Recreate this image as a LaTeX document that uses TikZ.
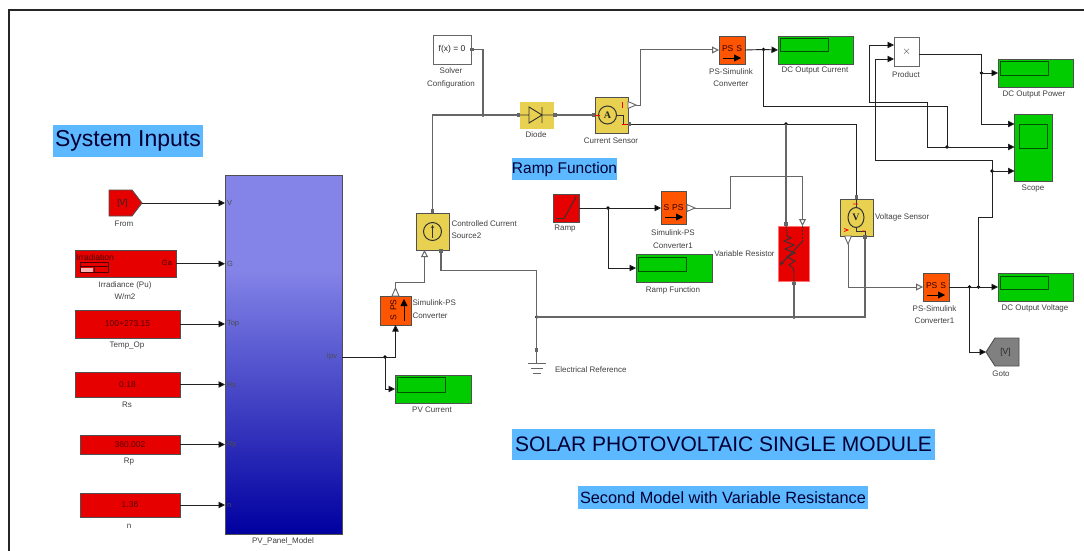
\documentclass[tikz,border=0pt]{standalone}
\usepackage{fontspec}
\setmainfont{Liberation Sans}
\newfontfamily\iconserif{Liberation Serif}
\usetikzlibrary{arrows.meta}
\definecolor{bred}{HTML}{E60000}
\definecolor{borange}{HTML}{FF5500}
\definecolor{byellow}{HTML}{E8D050}
\definecolor{bgreen}{HTML}{00CC00}
\definecolor{bgray}{HTML}{808080}
\definecolor{titlebg}{HTML}{5CB8FF}
\definecolor{edge}{HTML}{505050}
\definecolor{physw}{HTML}{666666}
\definecolor{sigw}{HTML}{222222}
\definecolor{pnlA}{HTML}{8484E8}
\definecolor{pnlB}{HTML}{0000A0}
\pgfdeclareverticalshading{panelshade}{100bp}{color(0bp)=(pnlB); color(25bp)=(pnlB); color(62bp)=(pnlA); color(75bp)=(pnlA); color(100bp)=(pnlA)}
\tikzset{
  x=1pt,y=-1pt,
  blockbox/.style={draw=edge,line width=0.9pt,inner sep=0pt,outer sep=0pt,font=\fontsize{8.5}{10}\selectfont,text=black!65!red},
  redbox/.style={blockbox,fill=bred},
  orangebox/.style={blockbox,fill=borange},
  yellowbox/.style={blockbox,fill=byellow},
  greenbox/.style={blockbox,fill=bgreen},
  whitebox/.style={blockbox,fill=white,draw=black!60},
  ghost/.style={inner sep=0pt,outer sep=0pt,font=\fontsize{8.5}{10}\selectfont,text=black!85},
  lbl/.style={inner sep=0pt,outer sep=0pt,font=\fontsize{8}{12.5}\selectfont,text=black!75,align=center},
  lbll/.style={lbl,anchor=west,align=left},
  portlbl/.style={inner sep=0pt,outer sep=0pt,font=\fontsize{7.5}{9}\selectfont,text=black!70},
  titlebox/.style={fill=titlebg,inner sep=0pt,outer sep=0pt,text=black!80!blue},
  sig/.style={draw=sigw,line width=0.9pt,-{Triangle[length=6.5pt,width=6.5pt,fill=black]}},
  sigplain/.style={draw=sigw,line width=0.9pt},
  phys/.style={draw=physw,line width=1.1pt},
  physin/.style={draw=physw,line width=1pt,-{Triangle[length=7pt,width=7pt,fill=white]}},
  outtri/.style={draw=physw,line width=0.9pt,fill=white},
  dispin/.style={draw=black!60!bgreen,line width=1pt},
  icon/.style={draw=black!80,line width=0.9pt},
  jdot/.style={circle,fill=black,inner sep=0pt,minimum size=3.6pt,outer sep=0pt},
}
\newcommand\blk[7]{%
  \pgfmathsetmacro\bcx{(#2+#4)/2}\pgfmathsetmacro\bcy{(#3+#5)/2}%
  \pgfmathsetmacro\bw{#4-#2}\pgfmathsetmacro\bh{#5-#3}%
  \node[#6,minimum width=\bw pt,minimum height=\bh pt] (#1) at (\bcx,\bcy) {#7};}
\newcommand\jn[3]{\node[jdot] (#1) at (#2,#3) {};}
\newcommand\prt[2]{\fill[physw] (#1-1.7,#2-1.9) rectangle (#1+1.7,#2+1.9);}
\newcommand\otri[3]{\draw[outtri,shift={(#1,#2)},rotate=#3] (0,-3.5)--(8,0)--(0,3.5)--cycle;}
\begin{document}
\begin{tikzpicture}
\useasboundingbox (0,0) rectangle (1084,551);
\fill[white] (0,0) rectangle (1084,551);
% frame
\draw[black!85,line width=1.6pt] (1084,10) -- (9,10) -- (9,551);
% titles
\blk{tsys}{53}{125}{203}{157}{titlebox,font=\fontsize{23}{26}\selectfont}{\raisebox{-1.5pt}{System Inputs}}
\blk{tramp}{513}{158}{616}{180}{titlebox,font=\fontsize{15.5}{17}\selectfont}{Ramp Function}
\blk{tsolar}{512}{429}{935}{460}{titlebox,font=\fontsize{21}{23}\selectfont}{SOLAR PHOTOVOLTAIC SINGLE MODULE}
\blk{tsec}{578}{486}{868}{509}{titlebox,font=\fontsize{16.3}{18}\selectfont}{Second Model with Variable Resistance}
% input blocks
\fill[bred,draw=edge,line width=0.9pt] (109,190)--(132,190)--(142,203)--(132,216)--(109,216)--cycle;
\blk{from}{109}{190}{142}{216}{ghost}{\hspace*{-6pt}[V]}
\node[lbl] (lfrom) at (124,224) {From};
\blk{irr}{75}{250.5}{176}{277}{redbox}{}
\node[ghost,anchor=west,text=black!70!red] (irrt) at (76,257.5) {Irradiation};
\draw[black!70!red,line width=0.8pt] (80,262) rectangle (108.5,272) (80,266.5)--(108.5,266.5) (94,266.5)--(94,272);
\fill[white!70!red] (81,268) rectangle (93,271.5);
\node[portlbl,text=black!70!red] (irrg) at (167,263) {Ga};
\node[lbl] (lirr) at (125,290.5) {Irradiance (Pu)\\W/m2};
\blk{temp}{75}{310}{180}{338}{redbox}{100+273.15}
\node[lbl] (ltemp) at (127,345.5) {Temp\_Op};
\blk{rs}{75}{372}{180}{397}{redbox}{0.18}
\node[lbl] (lrs) at (127,405) {Rs};
\blk{rp}{80}{435}{180}{454}{redbox}{360.002}
\node[lbl] (lrp) at (129,462) {Rp};
\blk{nn}{80}{493}{180}{517}{redbox}{1.36}
\node[lbl] (lnn) at (129,526) {n};
% panel
\node[draw=edge,line width=0.9pt,shading=panelshade,minimum width=117pt,minimum height=359pt,inner sep=0pt,outer sep=0pt] (panel) at (283.5,354.5) {};
\node[lbl] (lpanel) at (283,541) {PV\_Panel\_Model};
\node[portlbl,anchor=west] (pv) at (227,203) {V};
\node[portlbl,anchor=west] (pg) at (227,263.5) {G};
\node[portlbl,anchor=west] (pt) at (227,324) {Top};
\node[portlbl,anchor=west] (pr) at (227,384.5) {Rs};
\node[portlbl,anchor=west] (pp) at (227,445) {Rp};
\node[portlbl,anchor=west] (pn) at (227,505) {n};
\node[portlbl,anchor=east] (pipv) at (337,357) {Ipv};
% solver
\blk{solver}{433}{35}{471}{64.5}{whitebox,text=black!85}{f(x) = 0}
\node[lbl] (lsolver) at (451,78) {Solver\\Configuration};
% diode
\blk{diode}{520}{102}{553}{128}{yellowbox,draw=byellow}{}
\draw[icon] (520,115)--(529,115) (529,107)--(542,115)--(529,123)--cycle (542,107)--(542,123) (542,115)--(553,115);
\node[lbl] (ldiode) at (536,135) {Diode};
% current sensor
\blk{cs}{595}{97}{628}{133}{yellowbox}{}
\draw[icon,line width=1pt] (607.5,115) circle (9);
\node[inner sep=0pt,font=\iconserif\bfseries\fontsize{10}{10}\selectfont,text=black!85] (csa) at (607.5,115) {A};
\draw[icon] (616.5,115)--(623,115)--(623,124)--(628,124);
\draw[red,line width=0.8pt] (595,115)--(600,115) (622,102)--(622,108) (622,124)--(627,124);
\node[lbl] (lcs) at (611,141) {Current Sensor};
% ccs
\blk{ccs}{416}{213}{449}{250}{yellowbox}{}
\draw[icon,line width=1pt] (432.5,231.5) circle (9);
\draw[icon,-{Stealth[length=3pt,width=3pt]}] (432.5,238)--(432.5,225);
\node[lbll] (lccs) at (451.5,229.5) {Controlled Current\\Source2};
% S PS vertical
\blk{spsv}{380}{296}{411}{325}{orangebox}{}
\node[inner sep=0pt,rotate=90,font=\fontsize{8.5}{9}\selectfont,text=black!80!red] (spsvt) at (393.5,310) {S\hspace{4pt}PS};
\draw[draw=black,line width=0.8pt,-{Triangle[length=7pt,width=7pt]}] (404,321)--(404,299);
\node[lbll] (lspsv) at (412.5,309) {Simulink-PS\\Converter};
% PV current
\blk{pvc}{395}{375}{471}{403}{greenbox}{}
\draw[dispin] (397.5,377.5) rectangle (445.5,392);
\node[lbl] (lpvc) at (432,410) {PV Current};
% ramp
\blk{ramp}{553}{194}{579}{222}{redbox}{}
\draw[icon] (556,218.5)--(564,218.5)--(576,197);
\node[lbl] (lramp) at (565,229) {Ramp};
% S-PS1
\blk{sps}{661}{191}{686.5}{224.5}{orangebox}{}
\node[inner sep=0pt,font=\fontsize{8.5}{9}\selectfont,text=black!80!red] (spst) at (673.5,208) {S\hspace{3pt}PS};
\draw[draw=black,line width=0.8pt,-{Triangle[length=7pt,width=7pt]}] (665,217)--(683,217);
\node[lbl] (lsps) at (673,239) {Simulink-PS\\Converter1};
% ramp display
\blk{rdisp}{636}{254}{712}{282}{greenbox}{}
\draw[dispin] (638.5,257) rectangle (686.5,271);
\node[lbl] (lrdisp) at (673,290) {Ramp Function};
% variable resistor
\blk{vr}{778}{226}{809}{281}{redbox,draw=red!55!white}{}
\draw[icon] (787,232)--(787,236)--(791,238)--(784,241)--(794,245)--(785,249)--(795,253)--(787,257)--(795,261)--(789,265)--(793,268)--(794,272)--(794,281);
\draw[icon,-{Stealth[length=4pt,width=4pt]}] (802,242)--(780,265);
\draw[icon,dashed,dash pattern=on 2pt off 1.5pt] (786,226)--(787,232) (802.5,226)--(802.5,242);
\node[lbl] (lvr) at (744.5,253.5) {Variable Resistor};
% voltage sensor
\blk{vs}{840}{199}{873}{236}{yellowbox}{}
\draw[icon,line width=1pt] (856,217.5) ellipse (8 and 10);
\node[inner sep=0pt,font=\iconserif\bfseries\fontsize{10}{10}\selectfont,text=black!85] (vsv) at (856,217.5) {V};
\draw[icon] (856,199)--(856,207.5) (856,227.5)--(856,231)--(865,231)--(865,236);
\draw[red,line width=0.8pt] (853,204)--(858,204) (844,228.5)--(848,230)--(844,231.5) (862,231)--(865,231);
\node[lbll] (lvs) at (875,217) {Voltage Sensor};
% output converters
\blk{psc}{719}{36}{745}{64}{orangebox}{}
\node[inner sep=0pt,font=\fontsize{8.5}{9}\selectfont,text=black!80!red] (psct) at (732,49) {PS\hspace{3pt}S};
\draw[draw=black,line width=0.8pt,-{Triangle[length=7pt,width=7pt]}] (723,58)--(741,58);
\node[lbl] (lpsc) at (731,77.5) {PS-Simulink\\Converter};
\blk{psv}{923}{273}{949}{301}{orangebox}{}
\node[inner sep=0pt,font=\fontsize{8.5}{9}\selectfont,text=black!80!red] (psvt) at (936,286) {PS\hspace{3pt}S};
\draw[draw=black,line width=0.8pt,-{Triangle[length=7pt,width=7pt]}] (927,295)--(945,295);
\node[lbl] (lpsv) at (934.5,314.5) {PS-Simulink\\Converter1};
% displays
\blk{dci}{778}{36}{853}{64}{greenbox}{}
\draw[dispin] (780.5,38.5) rectangle (828,52);
\node[lbl] (ldci) at (815,71) {DC Output Current};
\blk{dcp}{998}{59}{1073}{87}{greenbox}{}
\draw[dispin] (1000.5,61.5) rectangle (1048,75.5);
\node[lbl] (ldcp) at (1034,94.5) {DC Output Power};
\blk{dcv}{998}{273}{1073}{301}{greenbox}{}
\draw[dispin] (1000.5,276) rectangle (1048,289.5);
\node[lbl] (ldcv) at (1035,308.5) {DC Output Voltage};
% product
\blk{prod}{894}{37}{919}{66}{whitebox,text=black!80,font=\fontsize{11}{11}\selectfont}{$\times$}
\node[lbl] (lprod) at (906,75) {Product};
% scope
\blk{scope}{1014.5}{114}{1052}{181}{greenbox}{}
\draw[dispin] (1019.5,124) rectangle (1047,148);
\node[lbl] (lscope) at (1033,189) {Scope};
% goto
\fill[bgray,draw=edge,line width=0.9pt] (986,352)--(995,338)--(1019,338)--(1019,366)--(995,366)--cycle;
\blk{goto}{986}{338}{1019}{366}{ghost}{\hspace*{6pt}[V]}
\node[lbl] (lgoto) at (1001,374) {Goto};
% ground
\coordinate (gndtop) at (536.7,350);
\draw[physw,line width=1.1pt] (gndtop)--(536.7,363.5) (527.5,363.5)--(546,363.5) (530.7,368.5)--(542.7,368.5) (532.7,373.5)--(540.7,373.5);
\node[lbll] (lgnd) at (555,370) {Electrical Reference};
% junctions
\jn{ja}{385}{357}
\jn{jb}{483}{115}
\jn{jc}{536.7}{317}
\jn{jd}{794}{317}
\jn{je}{608}{208}
\jn{jf}{763.5}{49.5}
\jn{jg}{786}{124}
\jn{jh}{947}{147}
\jn{ji}{981.5}{73}
\jn{jj}{992}{171}
\jn{jk}{969.5}{287}
\jn{jl}{978.5}{287}
% ports
\coordinate (ccsin) at (424.5,250);
\coordinate (ccsout) at (441,250);
\coordinate (csout) at (636,105);
\coordinate (csr) at (628,124);
\coordinate (vsb) at (865,236);
\coordinate (vst) at (856.5,199);
\coordinate (vsout) at (848,244);
\coordinate (vrt) at (786,226);
\coordinate (vrin) at (802.5,226);
\coordinate (vrb) at (794,281);
\coordinate (spso) at (693,208);
\coordinate (pia) at (894,45);
\coordinate (pib) at (894,59);
\coordinate (po) at (919,54);
\coordinate (sca) at (1014.5,124);
\coordinate (scb) at (1014.5,147);
\coordinate (scc) at (1014.5,171);
\coordinate (gotip) at (986,352);
% input wires
\draw[sig] (from.east) -- (panel.west |- from.east);
\draw[sig] (irr.east) -- (panel.west |- irr.east);
\draw[sig] (temp.east) -- (panel.west |- temp.east);
\draw[sig] (rs.east) -- (panel.west |- rs.east);
\draw[sig] (rp.east) -- (panel.west |- rp.east);
\draw[sig] (nn.east) -- (panel.west |- nn.east);
% panel output
\draw[sigplain] (panel.east |- ja) -- (ja.center);
\draw[sig] (ja.center) -| (spsv.south);
\draw[sig] (ja.center) |- (pvc.west);
% physical network
\draw[physin] (spsv.north) -- (395.5,282.5) -| (ccsin);
\draw[phys] (ccs.north) |- (jb.center);
\draw[phys] (solver.east) -| (jb.center);
\draw[phys] (jb.center) -- (diode.west);
\draw[phys] (diode.east) -- (cs.west |- diode.east);
\draw[phys] (ccsout) -- (441,270.5) -| (jc.center);
\draw[phys] (jc.center) -- (gndtop);
\draw[phys] (jc.center) -- (jd.center);
\draw[phys] (jd.center) -| (vsb);
\draw[phys] (jd.center) -- (vrb);
\draw[sigplain] (csr) -- (jg.center);
\draw[sigplain] (jg.center) -| (vst);
\draw[phys] (jg.center) -- (vrt);
% ramp
\draw[sig] (ramp.east) -- (sps.west |- ramp.east);
\draw[sig] (je.center) |- (rdisp.west);
\draw[physin] (spso) -- (730,208) -- (730,176) -| (vrin);
% current measurement
\draw[physin] (csout) -- (640.5,105) |- (psc.west);
\draw[sigplain] (psc.east) -- (jf.center);
\draw[sig] (jf.center) -- (dci.west);
\draw[sigplain] (jf.center) -- (763.5,106) -| (jh.center);
\draw[sig] (927,147) -- (scb);
\draw[sig] (927,147) -- (927,102) -- (869,102) |- (pia);
% voltage measurement
\draw[physin] (vsout) |- (psv.west);
\draw[sigplain] (psv.east) -- (jk.center);
\draw[sigplain] (jk.center) -- (jl.center);
\draw[sig] (jl.center) -- (dcv.west);
\draw[sig] (jk.center) |- (gotip);
\draw[sigplain] (jl.center) -- (978.5,217) -| (jj.center);
\draw[sig] (jj.center) -- (scc);
\draw[sig] (jj.center) -- (992,160) -- (875,160) |- (pib);
% power
\draw[sigplain] (po) -| (ji.center);
\draw[sig] (ji.center) -- (dcp.west);
\draw[sig] (ji.center) |- (sca);
% port marks
\otri{395.5}{296}{90}
\otri{628}{105}{0}
\otri{687}{208}{0}
\otri{848}{236}{-90}
\prt{472}{49.5}\prt{518.5}{115}\prt{555}{115}\prt{593.5}{115}\prt{629.5}{124}\prt{432.7}{211}\prt{441}{251}\prt{536.7}{350}\prt{786}{224}\prt{794}{283.5}\prt{856.5}{197}\prt{865}{237}
\end{tikzpicture}
\end{document}
